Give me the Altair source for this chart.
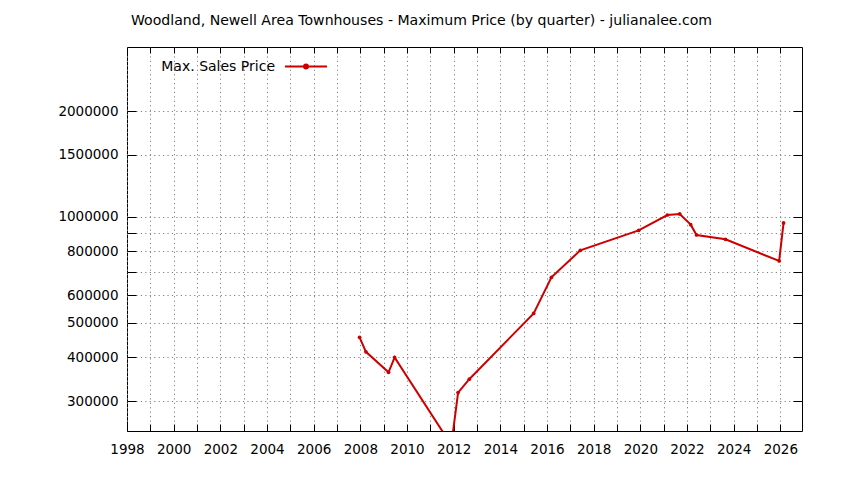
import altair as alt
import pandas as pd

# ---- data ----
years = [2007.97, 2008.24, 2009.21, 2009.47, 2011.90, 2012.19, 2012.67, 2015.43,
         2016.19, 2017.43, 2019.93, 2021.16, 2021.69, 2022.16, 2022.41, 2023.65,
         2025.95, 2026.14]
prices = [455000, 414000, 362000, 399000, 225000, 317000, 346000, 532000,
          674000, 804000, 916000, 1013000, 1020000, 951000, 889000, 864000,
          750000, 962000]
series_name = "Max. Sales Price"
x_tick_years = list(range(1998, 2027))
y_tick_values = [300000, 400000, 500000, 600000, 700000, 800000, 900000,
                 1000000, 1500000, 2000000]
y_label_values = [300000, 400000, 500000, 600000, 800000, 1000000, 1500000, 2000000]
title_text = "Woodland, Newell Area Townhouses - Maximum Price (by quarter) - julianalee.com"

df = pd.DataFrame({"year": years, "price": prices,
                   "series": [series_name] * len(years)})

FONT = "DejaVu Sans"
FS = 13.5
RED = "#cc0000"
GRID = "#808080"
DASH = [1.2, 3.24]

xscale = alt.Scale(domain=[1998, 2026.93], nice=False, zero=False)
yscale = alt.Scale(type="log", domain=[246600, 3040000], nice=False)

hidden = [v for v in y_tick_values if v not in y_label_values]
y_label_expr = " || ".join(f"datum.value == {v}" for v in hidden)
y_label_expr = f"({y_label_expr}) ? '' : datum.label" if hidden else "datum.label"

common_axis = dict(labelFont=FONT, labelFontSize=FS, labelColor="black",
                   labelFlush=False, labelOverlap=False, domain=False,
                   tickColor="black", tickWidth=1)

# main axes: labels + dotted grid
x_main = alt.Axis(orient="bottom", values=x_tick_years, format="d",
                  labelExpr="datum.value % 2 == 0 ? datum.label : ''",
                  ticks=False, tickSize=0, labelPadding=11, grid=True,
                  gridColor=GRID, gridDash=DASH, gridWidth=1, title=None,
                  **common_axis)
y_main = alt.Axis(orient="left", values=y_tick_values, format="d",
                  labelExpr=y_label_expr, ticks=False, tickSize=0,
                  labelPadding=9, grid=True, gridColor=GRID, gridDash=DASH,
                  gridWidth=1, title=None, **common_axis)


def tick_axis(orient, values, size):
    return alt.Axis(orient=orient, values=values, labels=False, grid=False,
                    ticks=True, tickSize=size, offset=-size, title=None,
                    domain=False, tickColor="black", tickWidth=1)


# legend: label first, then the line sample with a dot (gnuplot style)
legend = alt.Legend(title=None, orient="none", legendX=134, legendY=12.5,
                    symbolType="M17,0H59M36,0A2,2,0,1,1,40,0A2,2,0,1,1,36,0Z",
                    symbolSize=4, symbolStrokeWidth=2,
                    symbolStrokeColor=RED, symbolFillColor=RED,
                    symbolOffset=0, labelAlign="right", labelOffset=0,
                    labelFont=FONT, labelFontSize=14, labelColor="black",
                    padding=0)

base = alt.Chart(df)

line = base.mark_line(clip=True, strokeWidth=2).encode(
    x=alt.X("year:Q", scale=xscale, axis=x_main),
    y=alt.Y("price:Q", scale=yscale, axis=y_main),
    color=alt.Color("series:N", scale=alt.Scale(range=[RED]), legend=legend),
)

points = base.mark_point(clip=True, filled=True, size=14, color=RED, opacity=1).encode(
    x=alt.X("year:Q", scale=xscale, axis=tick_axis("bottom", x_tick_years, 7)),
    y=alt.Y("price:Q", scale=yscale, axis=tick_axis("left", y_tick_values, 9)),
)

mirror = base.mark_point(clip=True, opacity=0).encode(
    x=alt.X("year:Q", scale=xscale, axis=tick_axis("top", x_tick_years, 6)),
    y=alt.Y("price:Q", scale=yscale, axis=tick_axis("right", y_tick_values, 9)),
)

chart = alt.layer(line, points, mirror).resolve_axis(
    x="independent", y="independent"
).properties(
    width=675,
    height=384,
    autosize=alt.AutoSizeParams(type="none"),
    padding={"left": 119, "top": 39, "right": 20, "bottom": 30},
    background="white",
    title=alt.TitleParams(text=title_text, font=FONT, fontSize=14.1,
                          fontWeight="normal", color="black", anchor="middle",
                          frame="group", dx=-43, offset=7,
                          baseline="alphabetic"),
).configure_view(stroke="black", strokeWidth=1)

chart.save("out.html", embed_options={"renderer": "svg", "actions": False})
